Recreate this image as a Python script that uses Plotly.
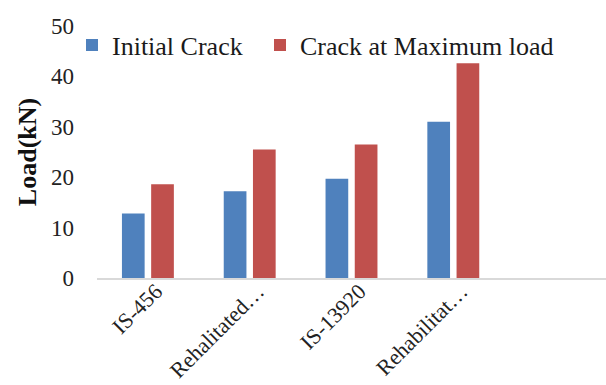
import plotly.graph_objects as go

categories = ["IS-456", "Rehalitated…", "IS-13920", "Rehabilitat…"]
initial_crack = [12.8, 17.2, 19.7, 31.0]
max_load_crack = [18.6, 25.5, 26.5, 42.6]
y_ticks = [0, 10, 20, 30, 40, 50]

FONT = "Liberation Serif, Times New Roman, serif"
LEG_FONT = dict(family=FONT, size=26, color="#1a1a1a")

fig = go.Figure()
fig.add_trace(go.Bar(x=categories, y=initial_crack, name="Initial Crack",
                     marker=dict(color="#4F81BD", line=dict(width=0)),
                     legend="legend"))
fig.add_trace(go.Bar(x=categories, y=max_load_crack, name="Crack at Maximum load",
                     marker=dict(color="#C0504D", line=dict(width=0)),
                     legend="legend2"))

fig.update_layout(
    width=606, height=385,
    margin=dict(l=97, r=0, t=26, b=107, autoexpand=False),
    paper_bgcolor="white", plot_bgcolor="white",
    barmode="group", bargap=0.426, bargroupgap=0.223,
    font=dict(family=FONT, color="#222222"),
    showlegend=True,
    legend=dict(orientation="h", xref="container", yref="container",
                x=72/606, y=1-45/385, xanchor="left", yanchor="middle",
                font=LEG_FONT, bgcolor="rgba(0,0,0,0)"),
    legend2=dict(orientation="h", xref="container", yref="container",
                 x=260/606, y=1-45/385, xanchor="left", yanchor="middle",
                 font=LEG_FONT, bgcolor="rgba(0,0,0,0)"),
    xaxis=dict(type="category", range=[-0.5, 4.5], showgrid=False,
               showline=True, linecolor="#D9D9D9", linewidth=1.5,
               ticks="", tickangle=-45, automargin=False,
               ticklabelstandoff=-10, ticklabelshift=8,
               tickfont=dict(family=FONT, size=22, color="#222222")),
    yaxis=dict(range=[0, 50], tickvals=y_ticks, showgrid=False, showline=False,
               zeroline=False, ticks="", ticklabelstandoff=22, automargin=False,
               tickfont=dict(family=FONT, size=23, color="#222222"),
               title=dict(text="<b>Load(kN)</b>", standoff=6,
                          font=dict(family=FONT, size=26, color="#111111"))),
)

fig.write_html("out.html")
